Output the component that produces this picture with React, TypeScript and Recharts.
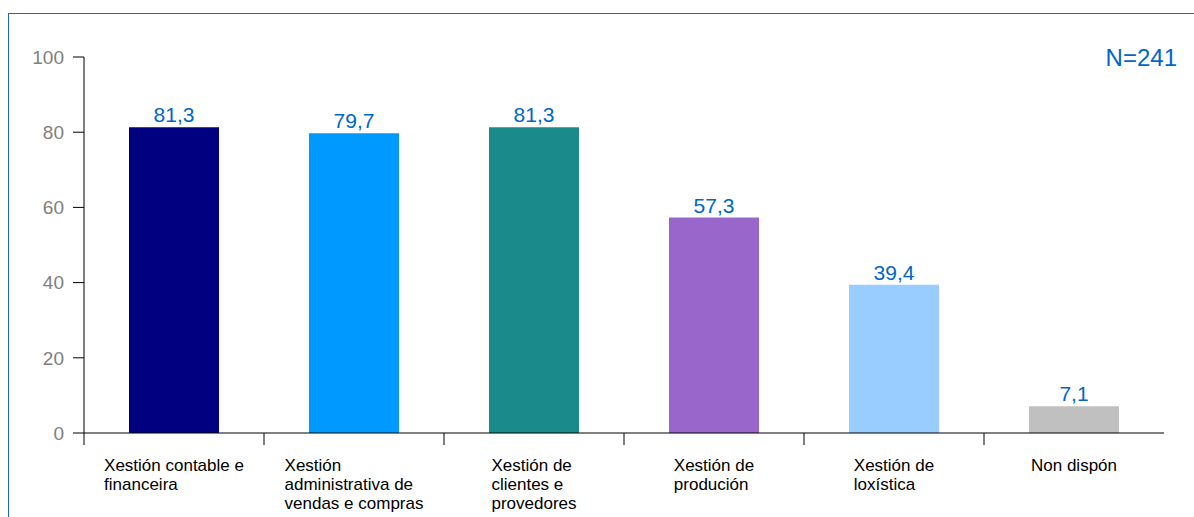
import { Bar, BarChart, Cell, LabelList, XAxis, YAxis } from "recharts"

const categories = [
  "Xestión contable e\nfinanceira",
  "Xestión\nadministrativa de\nvendas e compras",
  "Xestión de\nclientes e\nprovedores",
  "Xestión de\nprodución",
  "Xestión de\nloxística",
  "Non dispón",
]
const values = [81.3, 79.7, 81.3, 57.3, 39.4, 7.1]
const barColors = ["#000080", "#0099ff", "#1a8a8a", "#9966cc", "#99ccff", "#c0c0c0"]
const yTicks = [0, 20, 40, 60, 80, 100]
const sampleSize = "N=241"

const data = categories.map((name, i) => ({ name, value: values[i] }))

const W = 1186
const H = 504
const margin = { top: 44, right: 30, left: 16, bottom: 0 }
const yAxisWidth = 60
const band = (W - margin.left - margin.right - yAxisWidth) / categories.length
const font = '"Liberation Sans", Arial, sans-serif'

let ctx: CanvasRenderingContext2D | null = null
function measure(text: string) {
  if (!ctx) {
    ctx = document.createElement("canvas").getContext("2d")
  }
  if (!ctx) return text.length * 8.5
  ctx.font = `17px ${font}`
  return ctx.measureText(text).width
}

function CategoryTick(props: any) {
  const { x, y, payload } = props
  const lines = String(payload.value).split("\n")
  const blockW = Math.max(...lines.map(measure))
  const left = x - blockW / 2
  return (
    <g>
      <line x1={x - band / 2} y1={y} x2={x - band / 2} y2={y + 12} stroke="#000" />
      <text x={left} y={y + 38} fontSize={17} fontFamily={font} fill="#000">
        {lines.map((l, i) => (
          <tspan key={i} x={left} dy={i === 0 ? 0 : 19}>
            {l}
          </tspan>
        ))}
      </text>
    </g>
  )
}

export default function App() {
  return (
    <div style={{ position: "absolute", left: 8, top: 13, width: W, height: H }}>
      <div
        style={{
          position: "absolute",
          inset: 0,
          borderLeft: "1px solid #1a66c2",
          borderTop: "1px solid #1a66c2",
        }}
      />
      <BarChart width={W} height={H} data={data} margin={margin} barCategoryGap="25%">
        <XAxis
          dataKey="name"
          height={84}
          interval={0}
          tickSize={0}
          tickMargin={0}
          axisLine={{ stroke: "#000" }}
          tickLine={false}
          tick={<CategoryTick />}
        />
        <YAxis
          width={yAxisWidth}
          domain={[0, 100]}
          ticks={yTicks}
          tickSize={11}
          tickMargin={9}
          axisLine={{ stroke: "#000" }}
          tickLine={{ stroke: "#000" }}
          tick={{ fill: "#808080", fontSize: 19, fontFamily: font }}
        />
        <Bar dataKey="value" isAnimationActive={false}>
          {data.map((d, i) => (
            <Cell key={d.name} fill={barColors[i]} />
          ))}
          <LabelList
            dataKey="value"
            position="top"
            offset={5}
            fill="#0066cc"
            fontSize={21}
            fontFamily={font}
            formatter={(v: any) => Number(v).toFixed(1).replace(".", ",")}
          />
        </Bar>
      </BarChart>
      <svg
        width={W}
        height={H}
        style={{ position: "absolute", left: 0, top: 0, pointerEvents: "none" }}
      >
        <text x={1169} y={53} textAnchor="end" fontSize={24} fontFamily={font} fill="#0066cc">
          {sampleSize}
        </text>
      </svg>
    </div>
  )
}
